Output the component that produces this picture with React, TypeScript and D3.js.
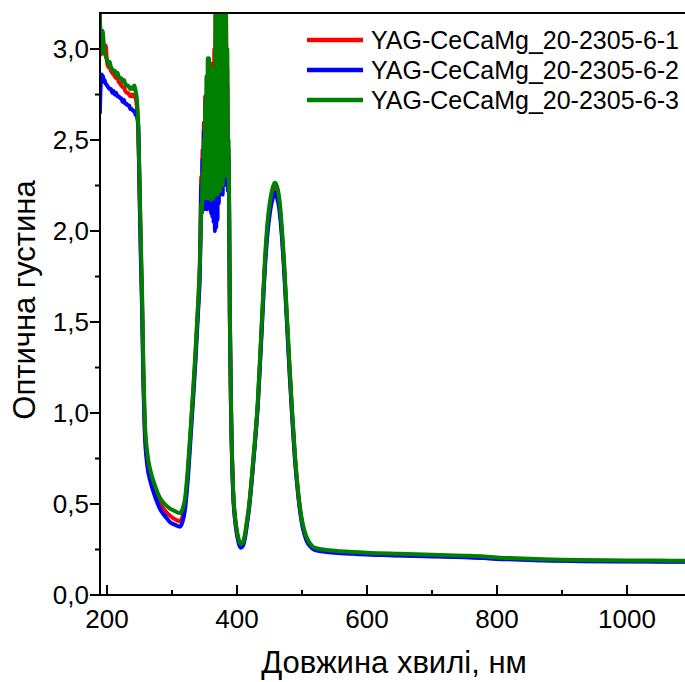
import React from "react";
import * as d3 from "d3";

// ---- data ----
const wlA = [189, 190, 191, 192, 193, 194, 195, 196, 198, 200, 202, 204, 206, 208, 210, 212, 214, 216, 218, 220, 222, 224, 226, 228, 230, 232, 234, 236, 238, 240, 242, 244, 246, 248];
const wlB = [250, 252, 254, 256, 258, 262, 267, 274, 282, 290, 297, 305, 312, 316, 320, 324, 328, 332, 336, 340, 343];
const wlC = [344, 345, 346, 347, 348, 349, 350, 351, 352, 353, 354, 355, 356, 357, 358, 359, 360, 361, 362, 363, 364, 365, 366, 367, 368, 369, 370, 371, 372, 373, 374, 375, 376, 377, 378, 379, 380, 381, 382, 383, 384, 385, 386, 387, 388];
const wlD = [389, 391, 394, 397, 400, 403, 406, 409, 412, 415, 419, 423, 428, 432, 437, 443, 447, 451, 455, 458, 461, 465, 469, 472, 477, 481, 485, 489, 494, 500, 504, 508, 513, 517, 525, 538, 560, 580, 600, 650, 700, 750, 780, 800, 830, 850, 900, 930, 1000, 1050, 1090];

const redA = [3.15, 3.05, 2.97, 3.02, 3.06, 3.04, 3.0, 2.98, 3.02, 2.93, 2.9, 2.9, 2.88, 2.87, 2.86, 2.85, 2.84, 2.84, 2.82, 2.81, 2.8, 2.79, 2.79, 2.77, 2.76, 2.76, 2.75, 2.74, 2.75, 2.74, 2.75, 2.73, 2.68, 2.56];
const redB = [2.25, 1.9, 1.6, 1.2, 0.93, 0.74, 0.645, 0.57, 0.5, 0.46, 0.435, 0.415, 0.405, 0.43, 0.5, 0.65, 0.86, 1.08, 1.31, 1.58, 1.83];
const redC = [2.08, 2.3, 2.18, 2.45, 2.22, 2.6, 2.2, 2.74, 2.22, 2.7, 2.19, 2.85, 2.2, 2.88, 2.18, 2.92, 2.2, 2.9, 2.22, 2.92, 2.2, 3.0, 2.22, 3.2, 2.25, 3.3, 2.22, 3.3, 2.28, 3.3, 2.3, 3.3, 2.28, 3.3, 2.26, 3.3, 2.35, 3.25, 2.3, 3.2, 2.4, 2.9, 2.3, 2.45, 2.05];
const redD = [1.52, 0.98, 0.57, 0.42, 0.34, 0.29, 0.27, 0.28, 0.32, 0.39, 0.5, 0.65, 0.86, 1.05, 1.4, 1.82, 2.02, 2.14, 2.21, 2.235, 2.22, 2.15, 1.99, 1.83, 1.5, 1.23, 0.98, 0.76, 0.56, 0.4, 0.34, 0.3, 0.27, 0.257, 0.247, 0.24, 0.233, 0.229, 0.225, 0.219, 0.214, 0.209, 0.205, 0.2, 0.197, 0.194, 0.19, 0.188, 0.186, 0.185, 0.184];

const blueA = [2.65, 2.78, 2.83, 2.86, 2.84, 2.85, 2.82, 2.83, 2.81, 2.8, 2.79, 2.78, 2.78, 2.76, 2.77, 2.75, 2.76, 2.74, 2.74, 2.73, 2.73, 2.71, 2.72, 2.7, 2.7, 2.69, 2.69, 2.67, 2.67, 2.66, 2.66, 2.64, 2.63, 2.58];
const blueB = [2.2, 1.85, 1.55, 1.15, 0.9, 0.71, 0.62, 0.54, 0.47, 0.43, 0.4, 0.385, 0.375, 0.4, 0.47, 0.62, 0.83, 1.05, 1.28, 1.55, 1.8];
const blueC = [2.0, 2.25, 2.1, 2.4, 2.15, 2.55, 2.12, 2.65, 2.14, 2.75, 2.12, 2.8, 2.15, 2.7, 2.12, 2.8, 2.1, 2.85, 2.08, 2.75, 2.05, 2.8, 2.0, 2.9, 2.02, 3.0, 2.06, 3.1, 2.15, 3.2, 2.2, 3.25, 2.22, 3.3, 2.2, 3.3, 2.25, 3.2, 2.28, 3.1, 2.3, 2.8, 2.22, 2.4, 2.0];
const blueD = [1.5, 0.97, 0.56, 0.41, 0.33, 0.28, 0.26, 0.27, 0.31, 0.38, 0.49, 0.64, 0.85, 1.04, 1.38, 1.8, 1.99, 2.11, 2.18, 2.21, 2.19, 2.12, 1.97, 1.81, 1.48, 1.21, 0.97, 0.75, 0.55, 0.39, 0.33, 0.29, 0.265, 0.252, 0.243, 0.236, 0.23, 0.226, 0.222, 0.217, 0.212, 0.207, 0.203, 0.198, 0.195, 0.192, 0.188, 0.186, 0.184, 0.183, 0.182];

const greenA = [3.2, 3.05, 2.98, 3.04, 3.1, 3.08, 3.02, 2.99, 2.96, 2.94, 2.92, 2.93, 2.9, 2.89, 2.88, 2.88, 2.86, 2.87, 2.85, 2.84, 2.84, 2.82, 2.83, 2.81, 2.8, 2.8, 2.79, 2.78, 2.79, 2.78, 2.8, 2.77, 2.72, 2.58];
const greenB = [2.3, 1.95, 1.65, 1.25, 0.97, 0.78, 0.68, 0.6, 0.53, 0.495, 0.475, 0.46, 0.45, 0.47, 0.53, 0.68, 0.88, 1.1, 1.33, 1.6, 1.85];
const greenC = [1.98, 2.15, 2.1, 2.32, 2.18, 2.5, 2.2, 2.7, 2.18, 2.85, 2.2, 2.95, 2.18, 2.95, 2.2, 2.9, 2.17, 2.8, 2.2, 2.65, 2.18, 2.9, 2.2, 3.3, 2.22, 3.3, 2.2, 3.3, 2.25, 3.3, 2.22, 3.3, 2.28, 3.3, 2.25, 3.3, 2.3, 3.3, 2.3, 3.3, 2.35, 3.0, 2.4, 2.5, 2.1];
const greenD = [1.55, 1.0, 0.58, 0.43, 0.35, 0.3, 0.28, 0.29, 0.33, 0.4, 0.51, 0.66, 0.87, 1.07, 1.42, 1.85, 2.05, 2.17, 2.24, 2.265, 2.25, 2.18, 2.02, 1.86, 1.52, 1.25, 1.0, 0.78, 0.57, 0.41, 0.35, 0.31, 0.28, 0.265, 0.255, 0.247, 0.24, 0.236, 0.232, 0.226, 0.221, 0.216, 0.212, 0.206, 0.202, 0.199, 0.194, 0.192, 0.19, 0.189, 0.188];

const seriesNames = ["YAG-CeCaMg_20-2305-6-1", "YAG-CeCaMg_20-2305-6-2", "YAG-CeCaMg_20-2305-6-3"];
const seriesColors = ["#ff0000", "#0000ff", "#008000"];

const xMajorTicks = [200, 400, 600, 800, 1000];
const xMinorTicks = [300, 500, 700, 900, 1100];
const yMajorTicks = [0, 0.5, 1.0, 1.5, 2.0, 2.5, 3.0];
const yMinorTicks = [0.25, 0.75, 1.25, 1.75, 2.25, 2.75];

const xTitle = "Довжина хвилі, нм";
const yTitle = "Оптична густина";

const wavelengths = [...wlA, ...wlB, ...wlC, ...wlD];
const seriesValues = [
  [...redA, ...redB, ...redC, ...redD],
  [...blueA, ...blueB, ...blueC, ...blueD],
  [...greenA, ...greenB, ...greenC, ...greenD],
];

// ---- layout ----
const W = 685;
const H = 682;
const left = 100;
const top = 13;
const bottom = 595;
const right = 700;

const FONT = "'Liberation Sans', Arial, sans-serif";

export default function App() {
  const x = d3.scaleLinear().domain([189.2, 189.2 + (right - left) / 0.65]).range([left, right]);
  const y = d3.scaleLinear().domain([0, 3.198]).range([bottom, top]);
  const line = d3
    .line<number>()
    .x((_, i) => x(wavelengths[i]))
    .y((v) => y(v))
    .curve(d3.curveMonotoneX);
  const fmt = (v: number) => v.toFixed(1).replace(".", ",");

  return (
    <div style={{ position: "absolute", left: 0, top: 0 }}>
      <svg width={W} height={H} style={{ display: "block", background: "#fff" }}>
        <defs>
          <clipPath id="plotClip">
            <rect x={left} y={top} width={right - left} height={bottom - top} />
          </clipPath>
        </defs>
        <rect x={0} y={0} width={W} height={H} fill="#fff" />
        <g clipPath="url(#plotClip)">
          {seriesValues.map((vals, i) => (
            <path
              key={i}
              d={line(vals) || ""}
              fill="none"
              stroke={seriesColors[i]}
              strokeWidth={4}
              strokeLinejoin="round"
              strokeLinecap="round"
            />
          ))}
        </g>
        {/* axes frame */}
        <line x1={left} x2={W + 5} y1={top} y2={top} stroke="#000" strokeWidth={2} />
        <line x1={left} x2={W + 5} y1={bottom} y2={bottom} stroke="#000" strokeWidth={2} />
        <line x1={left} x2={left} y1={top - 1} y2={bottom + 1} stroke="#000" strokeWidth={2} />
        {/* x ticks (inward) */}
        {xMajorTicks.map((t) => (
          <g key={"xm" + t}>
            <line x1={x(t)} x2={x(t)} y1={bottom} y2={bottom - 10} stroke="#000" strokeWidth={2} />
            <text x={x(t)} y={628} textAnchor="middle" fontFamily={FONT} fontSize={26} fill="#000">
              {t}
            </text>
          </g>
        ))}
        {xMinorTicks.map((t) => (
          <line key={"xn" + t} x1={x(t)} x2={x(t)} y1={bottom} y2={bottom - 5} stroke="#000" strokeWidth={2} />
        ))}
        {/* y ticks (outward) */}
        {yMajorTicks.map((t) => (
          <g key={"ym" + t}>
            <line x1={left} x2={left - 10} y1={y(t)} y2={y(t)} stroke="#000" strokeWidth={2} />
            <text x={89} y={y(t) + 9.3} textAnchor="end" fontFamily={FONT} fontSize={26} fill="#000">
              {fmt(t)}
            </text>
          </g>
        ))}
        {yMinorTicks.map((t) => (
          <line key={"yn" + t} x1={left} x2={left - 5} y1={y(t)} y2={y(t)} stroke="#000" strokeWidth={2} />
        ))}
        {/* titles */}
        <text x={394} y={673} textAnchor="middle" fontFamily={FONT} fontSize={31} fill="#000">
          {xTitle}
        </text>
        <text
          transform={`translate(35, 300) rotate(-90)`}
          textAnchor="middle"
          fontFamily={FONT}
          fontSize={31}
          fill="#000"
        >
          {yTitle}
        </text>
        {/* legend */}
        {seriesNames.map((name, i) => (
          <g key={name} transform={`translate(0, ${40 + i * 30})`}>
            <line x1={307} x2={363} y1={0} y2={0} stroke={seriesColors[i]} strokeWidth={4.5} />
            <text x={371} y={8.5} fontFamily={FONT} fontSize={25} fill="#000">
              {name}
            </text>
          </g>
        ))}
      </svg>
    </div>
  );
}
